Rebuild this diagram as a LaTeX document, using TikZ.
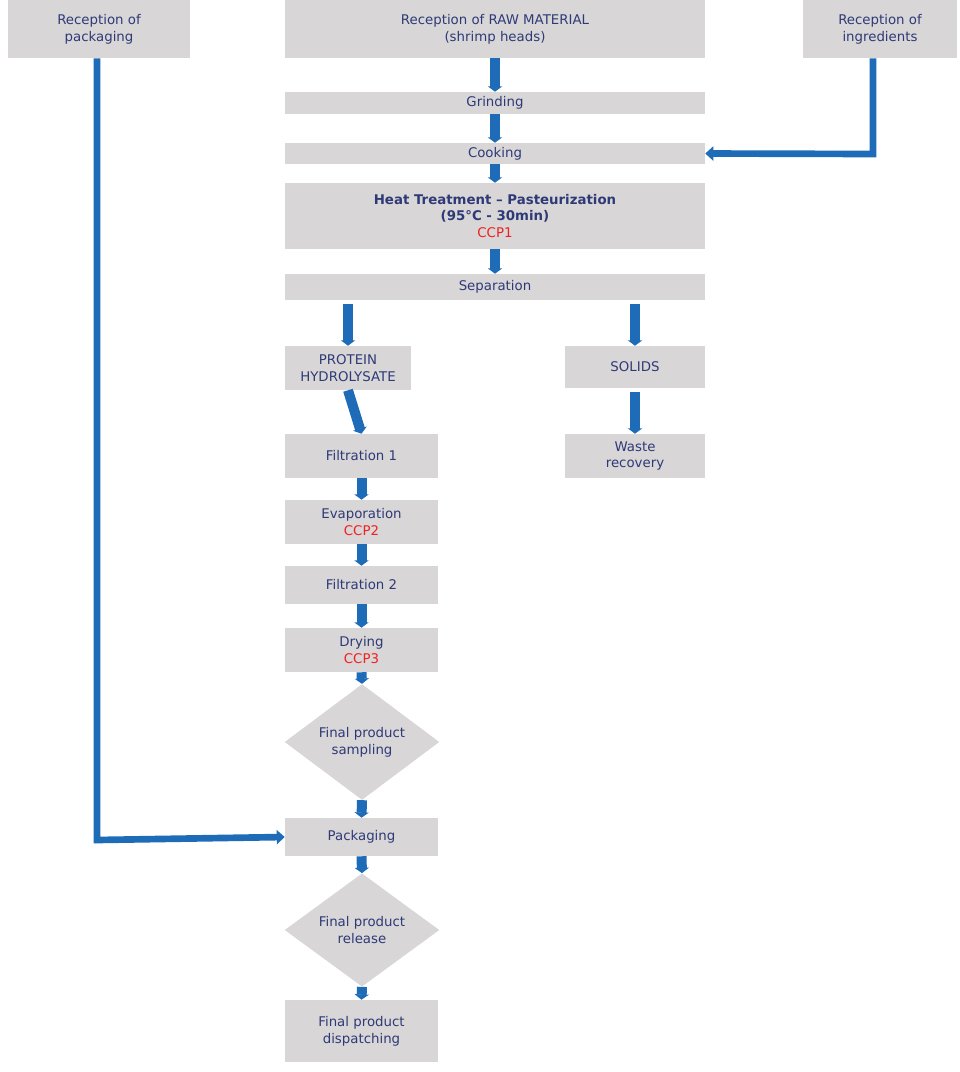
\documentclass[tikz,border=0pt]{standalone}
\usepackage{fontspec}
\setmainfont{DejaVu Sans}
\usetikzlibrary{shapes.geometric,arrows.meta}
\definecolor{boxg}{HTML}{D8D6D6}
\definecolor{txt}{HTML}{2E3A78}
\definecolor{arr}{HTML}{1E6CB8}
\definecolor{ccp}{HTML}{F02020}
\tikzset{
 bx/.style={fill=boxg,text=txt,align=center,inner sep=0pt,font=\fontsize{10}{12.5}\selectfont},
 dm/.style={diamond,fill=boxg,text=txt,align=center,inner sep=0pt,font=\fontsize{10}{12.5}\selectfont},
 ar/.style={draw=arr,line width=7.5pt,-{Triangle[width=10.5pt,length=4pt]}},
 ln/.style={draw=arr,line width=5pt},
}
\newcommand{\bxat}[6]{\node[bx,minimum width={(#4-#2)*0.75pt},minimum height={(#5-#3)*0.75pt}] (#1) at ({(#2+#4)/2},{(#3+#5)/2}) {#6};}
\begin{document}
\begin{tikzpicture}[x=0.75pt,y=-0.75pt]
\useasboundingbox (0,0) rectangle (960,1072);
\bxat{pack}{8}{0}{190}{58}{Reception of\\packaging}
\bxat{raw}{285}{0}{705}{58}{Reception of RAW MATERIAL\\(shrimp heads)}
\bxat{ingr}{803}{0}{957}{58}{Reception of\\ingredients}
\bxat{grind}{285}{92}{705}{114}{Grinding}
\bxat{cook}{285}{143}{705}{164}{Cooking}
\bxat{heat}{285}{183}{705}{249}{\textbf{Heat Treatment – Pasteurization}\\\textbf{(95°C - 30min)}\\\textcolor{ccp}{CCP1}}
\bxat{sep}{285}{274}{705}{300}{Separation}
\bxat{prot}{285}{346}{411}{390}{PROTEIN\\HYDROLYSATE}
\bxat{sol}{565}{346}{705}{388}{SOLIDS}
\bxat{fil1}{285}{434}{438}{478}{Filtration 1}
\bxat{waste}{565}{434}{705}{478}{Waste\\recovery}
\bxat{evap}{285}{500}{438}{544}{Evaporation\\\textcolor{ccp}{CCP2}}
\bxat{fil2}{285}{566}{438}{604}{Filtration 2}
\bxat{dry}{285}{628}{438}{672}{Drying\\\textcolor{ccp}{CCP3}}
\node[dm,minimum width=116pt,minimum height=75pt] (samp) at (362,742) {Final product\\sampling};
\bxat{packg}{285}{818}{438}{856}{Packaging}
\node[dm,minimum width=116pt,minimum height=75pt] (rel) at (362,930) {Final product\\release};
\bxat{disp}{285}{1000}{438}{1062}{Final product\\dispatching}
% main column
\draw[ar] (raw.south) -- (grind.north);
\draw[ar] (grind.south) -- (cook.north);
\draw[ar] (cook.south) -- (heat.north);
\draw[ar] (heat.south) -- (sep.north);
\draw[ar] (sep.south -| prot) ++(0,4) -- (prot.north);
\draw[ar] (sep.south -| sol) ++(0,4) -- (sol.north);
\draw[ar] (sol.south) ++(0,4) -- (waste.north);
\draw[ar] (prot.south) -- (fil1.north);
\draw[ar] (fil1.south) -- (evap.north);
\draw[ar] (evap.south) -- (fil2.north);
\draw[ar] (fil2.south) -- (dry.north);
\draw[ar] (dry.south) -- (samp.north);
\draw[ar] (samp.south) -- (packg.north);
\draw[ar] (packg.south) -- (rel.north);
\draw[ar] (rel.south) -- (disp.north);
\coordinate (pc) at (97,840);
\coordinate (ic) at (873,154);
\draw[ln,-{Triangle[width=10.5pt,length=6pt]}] (pack.south -| pc) -- (pc) -- (packg.west);
\draw[ln,-{Triangle[width=10.5pt,length=6pt]}] (ingr.south -| ic) -- (ic) -- (cook.east);
\end{tikzpicture}
\end{document}
